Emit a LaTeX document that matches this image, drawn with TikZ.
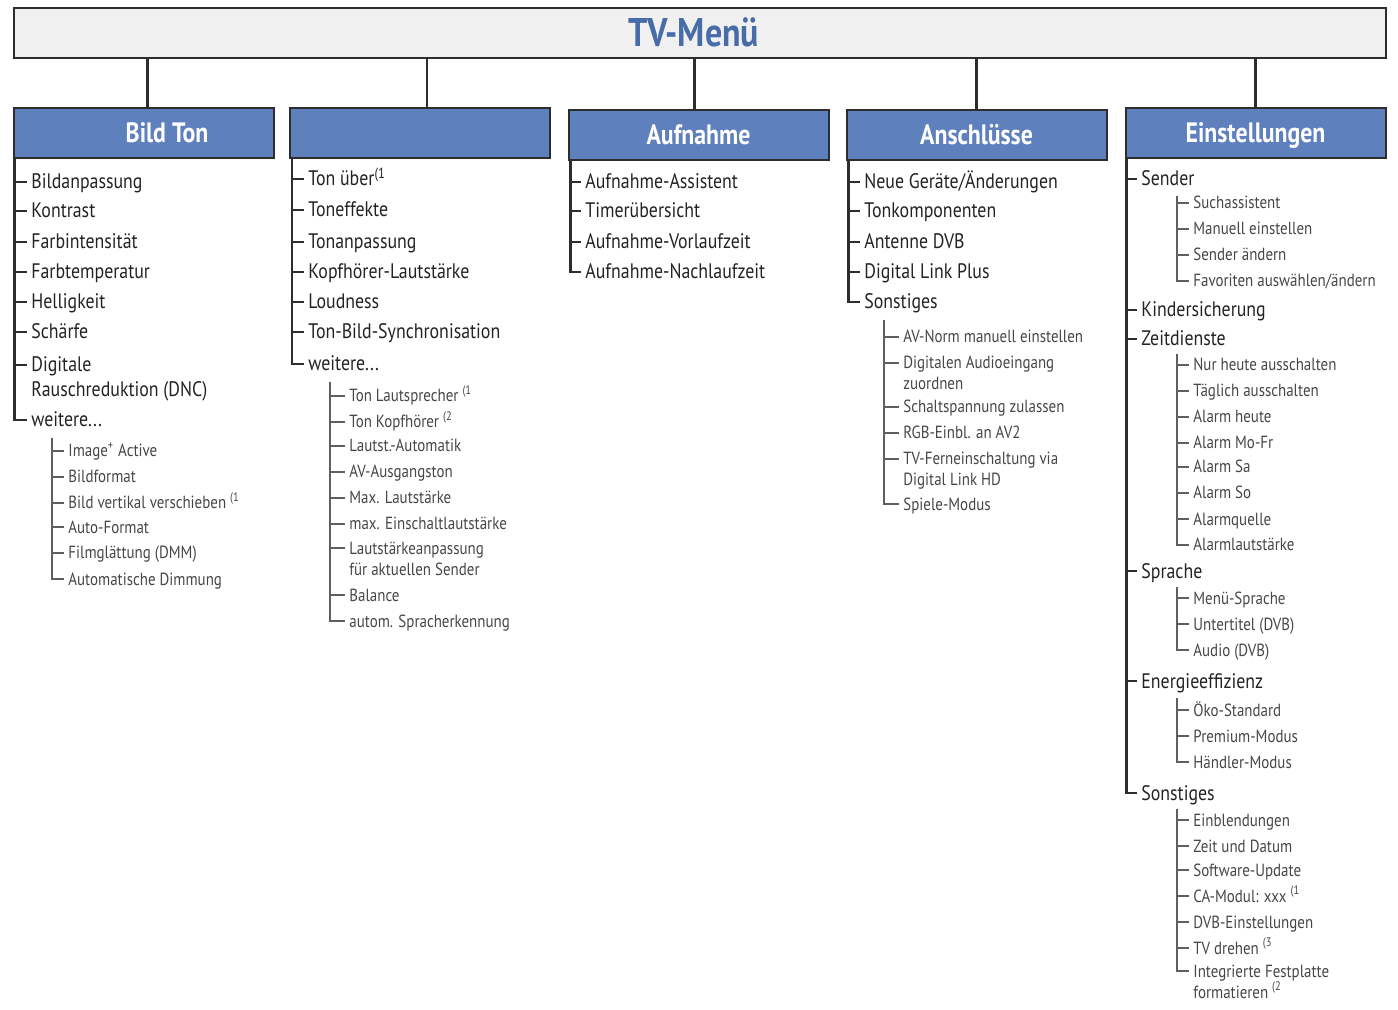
\documentclass[tikz,border=0pt]{standalone}
\usepackage{fontspec}
\setmainfont{PT Sans}[FakeStretch=0.85]
\usepackage{tikz}

\definecolor{boxblue}{RGB}{94,128,189}
\definecolor{titleblue}{RGB}{72,108,168}
\definecolor{topgray}{RGB}{240,240,240}
\definecolor{linegray}{RGB}{45,45,45}
\definecolor{subgray}{RGB}{95,95,95}
\definecolor{textgray}{RGB}{35,35,35}
\definecolor{subtext}{RGB}{70,70,70}

\tikzset{
  menubox/.style={draw=linegray, line width=1pt, fill=boxblue, minimum width=130pt, minimum height=25pt, inner sep=0pt, text height=10pt, text depth=0pt, text=white, font=\fontsize{14}{16}\selectfont\bfseries},
  mainitem/.style={anchor=base west, inner xsep=2pt, inner ysep=0pt, align=left, text=textgray, font=\fontsize{10.5}{12.5}\selectfont},
  subitem/.style={anchor=base west, inner xsep=2pt, inner ysep=0pt, align=left, text=subtext, font=\fontsize{8.8}{10.5}\selectfont},
  mainline/.style={draw=linegray, line width=1.2pt},
  subline/.style={draw=subgray, line width=0.7pt},
}

\begin{document}
\begin{tikzpicture}[x=0.5pt, y=-0.5pt]

    \useasboundingbox (0, 0) rectangle (1398, 1010);

    \node [draw=linegray, line width=1pt, fill=topgray, minimum width=686pt, minimum height=25pt, inner sep=0pt, text height=14pt, text depth=0pt, text=titleblue, font=\fontsize{20}{22}\selectfont\bfseries] (tv) at (700, 33) {TV-Menü\hspace*{6pt}};

    \node [menubox] (a) at (143.5, 133) {\hspace*{23.5pt}Bild Ton};
    \node [menubox] (b) at (420, 133) {};
    \node [menubox] (c) at (698.5, 135) {Aufnahme};
    \node [menubox] (d) at (976.5, 135) {Anschlüsse};
    \node [menubox] (e) at (1255.5, 133) {Einstellungen};

    \draw [mainline] ([xshift=2pt]tv.south -| a.north) -- ([xshift=2pt]a.north);
    \draw [mainline] ([xshift=3.5pt]tv.south -| b.north) -- ([xshift=3.5pt]b.north);
    \draw [mainline] ([xshift=-2pt]tv.south -| c.north) -- ([xshift=-2pt]c.north);
    \draw [mainline] (tv.south -| d.north) -- (d.north);
    \draw [mainline] (tv.south -| e.north) -- (e.north);

    % Bild Ton
    \node [mainitem] (a1) at (27, 189) {Bildanpassung};
    \node [mainitem] (a2) at (27, 218) {Kontrast};
    \node [mainitem] (a3) at (27, 249) {Farbintensität};
    \node [mainitem] (a4) at (27, 279) {Farbtemperatur};
    \node [mainitem] (a5) at (27, 309) {Helligkeit};
    \node [mainitem] (a6) at (27, 339) {Schärfe};
    \node [mainitem] (a7) at (27, 397) {Digitale\\Rauschreduktion (DNC)};
    \node [mainitem] (a8) at (27, 427) {weitere...};
    \node [subitem] (aa1) at (64, 457) {Image\textsuperscript{+} Active};
    \node [subitem] (aa2) at (64, 483) {Bildformat};
    \node [subitem] (aa3) at (64, 509) {Bild vertikal verschieben \textsuperscript{(1}};
    \node [subitem] (aa4) at (64, 533) {Auto-Format};
    \node [subitem] (aa5) at (64, 559) {Filmglättung (DMM)};
    \node [subitem] (aa6) at (64, 585) {Automatische Dimmung};
    \coordinate (as) at (52, 438);

    \draw [mainline] ([xshift=1pt]a.south west) |- ([yshift=3.6pt]a1.base west);
    \draw [mainline] ([xshift=1pt]a.south west) |- ([yshift=3.6pt]a2.base west);
    \draw [mainline] ([xshift=1pt]a.south west) |- ([yshift=3.6pt]a3.base west);
    \draw [mainline] ([xshift=1pt]a.south west) |- ([yshift=3.6pt]a4.base west);
    \draw [mainline] ([xshift=1pt]a.south west) |- ([yshift=3.6pt]a5.base west);
    \draw [mainline] ([xshift=1pt]a.south west) |- ([yshift=3.6pt]a6.base west);
    \draw [mainline] ([xshift=1pt]a.south west) |- ([yshift=16.1pt]a7.base west);
    \draw [mainline] ([xshift=1pt]a.south west) |- ([yshift=3.6pt]a8.base west);
    \draw [subline] (as) |- ([yshift=3pt]aa1.base west);
    \draw [subline] (as) |- ([yshift=3pt]aa2.base west);
    \draw [subline] (as) |- ([yshift=3pt]aa3.base west);
    \draw [subline] (as) |- ([yshift=3pt]aa4.base west);
    \draw [subline] (as) |- ([yshift=3pt]aa5.base west);
    \draw [subline] (as) |- ([yshift=3pt]aa6.base west);

    % Ton
    \node [mainitem] (b1) at (304, 186) {Ton über\textsuperscript{(1}};
    \node [mainitem] (b2) at (304, 217) {Toneffekte};
    \node [mainitem] (b3) at (304, 249) {Tonanpassung};
    \node [mainitem] (b4) at (304, 279) {Kopfhörer-Lautstärke};
    \node [mainitem] (b5) at (304, 309) {Loudness};
    \node [mainitem] (b6) at (304, 339) {Ton-Bild-Synchronisation};
    \node [mainitem] (b7) at (304, 371) {weitere...};
    \node [subitem] (bb1) at (345, 402) {Ton Lautsprecher \textsuperscript{(1}};
    \node [subitem] (bb2) at (345, 428) {Ton Kopfhörer \textsuperscript{(2}};
    \node [subitem] (bb3) at (345, 452) {Lautst.-Automatik};
    \node [subitem] (bb4) at (345, 478) {AV-Ausgangston};
    \node [subitem] (bb5) at (345, 504) {Max. Lautstärke};
    \node [subitem] (bb6) at (345, 530) {max. Einschaltlautstärke};
    \node [subitem] (bb7) at (345, 575) {Lautstärkeanpassung\\für aktuellen Sender};
    \node [subitem] (bb8) at (345, 601) {Balance};
    \node [subitem] (bb9) at (345, 627) {autom. Spracherkennung};
    \coordinate (bs) at (330, 382);

    \draw [mainline] ([xshift=1.5pt]b.south west) |- ([yshift=3.6pt]b1.base west);
    \draw [mainline] ([xshift=1.5pt]b.south west) |- ([yshift=3.6pt]b2.base west);
    \draw [mainline] ([xshift=1.5pt]b.south west) |- ([yshift=3.6pt]b3.base west);
    \draw [mainline] ([xshift=1.5pt]b.south west) |- ([yshift=3.6pt]b4.base west);
    \draw [mainline] ([xshift=1.5pt]b.south west) |- ([yshift=3.6pt]b5.base west);
    \draw [mainline] ([xshift=1.5pt]b.south west) |- ([yshift=3.6pt]b6.base west);
    \draw [mainline] ([xshift=1.5pt]b.south west) |- ([yshift=3.6pt]b7.base west);
    \draw [subline] (bs) |- ([yshift=3pt]bb1.base west);
    \draw [subline] (bs) |- ([yshift=3pt]bb2.base west);
    \draw [subline] (bs) |- ([yshift=3pt]bb3.base west);
    \draw [subline] (bs) |- ([yshift=3pt]bb4.base west);
    \draw [subline] (bs) |- ([yshift=3pt]bb5.base west);
    \draw [subline] (bs) |- ([yshift=3pt]bb6.base west);
    \draw [subline] (bs) |- ([yshift=13.5pt]bb7.base west);
    \draw [subline] (bs) |- ([yshift=3pt]bb8.base west);
    \draw [subline] (bs) |- ([yshift=3pt]bb9.base west);

    % Aufnahme
    \node [mainitem] (c1) at (581, 189) {Aufnahme-Assistent};
    \node [mainitem] (c2) at (581, 218) {Timerübersicht};
    \node [mainitem] (c3) at (581, 249) {Aufnahme-Vorlaufzeit};
    \node [mainitem] (c4) at (581, 279) {Aufnahme-Nachlaufzeit};

    \draw [mainline] ([xshift=1.5pt]c.south west) |- ([yshift=3.6pt]c1.base west);
    \draw [mainline] ([xshift=1.5pt]c.south west) |- ([yshift=3.6pt]c2.base west);
    \draw [mainline] ([xshift=1.5pt]c.south west) |- ([yshift=3.6pt]c3.base west);
    \draw [mainline] ([xshift=1.5pt]c.south west) |- ([yshift=3.6pt]c4.base west);

    % Anschluesse
    \node [mainitem] (d1) at (860, 189) {Neue Geräte/Änderungen};
    \node [mainitem] (d2) at (860, 218) {Tonkomponenten};
    \node [mainitem] (d3) at (860, 249) {Antenne DVB};
    \node [mainitem] (d4) at (860, 279) {Digital Link Plus};
    \node [mainitem] (d5) at (860, 309) {Sonstiges};
    \node [subitem] (dd1) at (899, 343) {AV-Norm manuell einstellen};
    \node [subitem] (dd2) at (899, 390) {Digitalen Audioeingang\\zuordnen};
    \node [subitem] (dd3) at (899, 413) {Schaltspannung zulassen};
    \node [subitem] (dd4) at (899, 439) {RGB-Einbl. an AV2};
    \node [subitem] (dd5) at (899, 486) {TV-Ferneinschaltung via\\Digital Link HD};
    \node [subitem] (dd6) at (899, 510) {Spiele-Modus};
    \coordinate (ds) at (884, 320);

    \draw [mainline] ([xshift=1.5pt]d.south west) |- ([yshift=3.6pt]d1.base west);
    \draw [mainline] ([xshift=1.5pt]d.south west) |- ([yshift=3.6pt]d2.base west);
    \draw [mainline] ([xshift=1.5pt]d.south west) |- ([yshift=3.6pt]d3.base west);
    \draw [mainline] ([xshift=1.5pt]d.south west) |- ([yshift=3.6pt]d4.base west);
    \draw [mainline] ([xshift=1.5pt]d.south west) |- ([yshift=3.6pt]d5.base west);
    \draw [subline] (ds) |- ([yshift=3pt]dd1.base west);
    \draw [subline] (ds) |- ([yshift=13.5pt]dd2.base west);
    \draw [subline] (ds) |- ([yshift=3pt]dd3.base west);
    \draw [subline] (ds) |- ([yshift=3pt]dd4.base west);
    \draw [subline] (ds) |- ([yshift=13.5pt]dd5.base west);
    \draw [subline] (ds) |- ([yshift=3pt]dd6.base west);

    % Einstellungen
    \node [mainitem] (e1) at (1137, 186) {Sender};
    \node [mainitem] (e2) at (1137, 317) {Kindersicherung};
    \node [mainitem] (e3) at (1137, 346) {Zeitdienste};
    \node [mainitem] (e4) at (1137, 578) {Sprache};
    \node [mainitem] (e5) at (1137, 688) {Energieeffizienz};
    \node [mainitem] (e6) at (1137, 800) {Sonstiges};

    \node [subitem] (ea1) at (1189, 209) {Suchassistent};
    \node [subitem] (ea2) at (1189, 235) {Manuell einstellen};
    \node [subitem] (ea3) at (1189, 261) {Sender ändern};
    \node [subitem] (ea4) at (1189, 287) {Favoriten auswählen/ändern};
    \coordinate (eas) at (1177, 196);

    \node [subitem] (eb1) at (1189, 371) {Nur heute ausschalten};
    \node [subitem] (eb2) at (1189, 397) {Täglich ausschalten};
    \node [subitem] (eb3) at (1189, 423) {Alarm heute};
    \node [subitem] (eb4) at (1189, 449) {Alarm Mo-Fr};
    \node [subitem] (eb5) at (1189, 473) {Alarm Sa};
    \node [subitem] (eb6) at (1189, 499) {Alarm So};
    \node [subitem] (eb7) at (1189, 525) {Alarmquelle};
    \node [subitem] (eb8) at (1189, 551) {Alarmlautstärke};
    \coordinate (ebs) at (1177, 354);

    \node [subitem] (ec1) at (1189, 604) {Menü-Sprache};
    \node [subitem] (ec2) at (1189, 630) {Untertitel (DVB)};
    \node [subitem] (ec3) at (1189, 656) {Audio (DVB)};
    \coordinate (ecs) at (1177, 587);

    \node [subitem] (ed1) at (1189, 716) {Öko-Standard};
    \node [subitem] (ed2) at (1189, 742) {Premium-Modus};
    \node [subitem] (ed3) at (1189, 768) {Händler-Modus};
    \coordinate (eds) at (1177, 698);

    \node [subitem] (ee1) at (1189, 826) {Einblendungen};
    \node [subitem] (ee2) at (1189, 852) {Zeit und Datum};
    \node [subitem] (ee3) at (1189, 876) {Software-Update};
    \node [subitem] (ee4) at (1189, 902) {CA-Modul: xxx \textsuperscript{(1}};
    \node [subitem] (ee5) at (1189, 928) {DVB-Einstellungen};
    \node [subitem] (ee6) at (1189, 954) {TV drehen \textsuperscript{(3}};
    \node [subitem] (ee7) at (1189, 998) {Integrierte Festplatte\\formatieren \textsuperscript{(2}};
    \coordinate (ees) at (1177, 809);

    \draw [mainline] ([xshift=1pt]e.south west) |- ([yshift=3.6pt]e1.base west);
    \draw [mainline] ([xshift=1pt]e.south west) |- ([yshift=3.6pt]e2.base west);
    \draw [mainline] ([xshift=1pt]e.south west) |- ([yshift=3.6pt]e3.base west);
    \draw [mainline] ([xshift=1pt]e.south west) |- ([yshift=3.6pt]e4.base west);
    \draw [mainline] ([xshift=1pt]e.south west) |- ([yshift=3.6pt]e5.base west);
    \draw [mainline] ([xshift=1pt]e.south west) |- ([yshift=3.6pt]e6.base west);

    \draw [subline] (eas) |- ([yshift=3pt]ea1.base west);
    \draw [subline] (eas) |- ([yshift=3pt]ea2.base west);
    \draw [subline] (eas) |- ([yshift=3pt]ea3.base west);
    \draw [subline] (eas) |- ([yshift=3pt]ea4.base west);
    \draw [subline] (ebs) |- ([yshift=3pt]eb1.base west);
    \draw [subline] (ebs) |- ([yshift=3pt]eb2.base west);
    \draw [subline] (ebs) |- ([yshift=3pt]eb3.base west);
    \draw [subline] (ebs) |- ([yshift=3pt]eb4.base west);
    \draw [subline] (ebs) |- ([yshift=3pt]eb5.base west);
    \draw [subline] (ebs) |- ([yshift=3pt]eb6.base west);
    \draw [subline] (ebs) |- ([yshift=3pt]eb7.base west);
    \draw [subline] (ebs) |- ([yshift=3pt]eb8.base west);
    \draw [subline] (ecs) |- ([yshift=3pt]ec1.base west);
    \draw [subline] (ecs) |- ([yshift=3pt]ec2.base west);
    \draw [subline] (ecs) |- ([yshift=3pt]ec3.base west);
    \draw [subline] (eds) |- ([yshift=3pt]ed1.base west);
    \draw [subline] (eds) |- ([yshift=3pt]ed2.base west);
    \draw [subline] (eds) |- ([yshift=3pt]ed3.base west);
    \draw [subline] (ees) |- ([yshift=3pt]ee1.base west);
    \draw [subline] (ees) |- ([yshift=3pt]ee2.base west);
    \draw [subline] (ees) |- ([yshift=3pt]ee3.base west);
    \draw [subline] (ees) |- ([yshift=3pt]ee4.base west);
    \draw [subline] (ees) |- ([yshift=3pt]ee5.base west);
    \draw [subline] (ees) |- ([yshift=3pt]ee6.base west);
    \draw [subline] (ees) |- ([yshift=13.5pt]ee7.base west);

\end{tikzpicture}
\end{document}
